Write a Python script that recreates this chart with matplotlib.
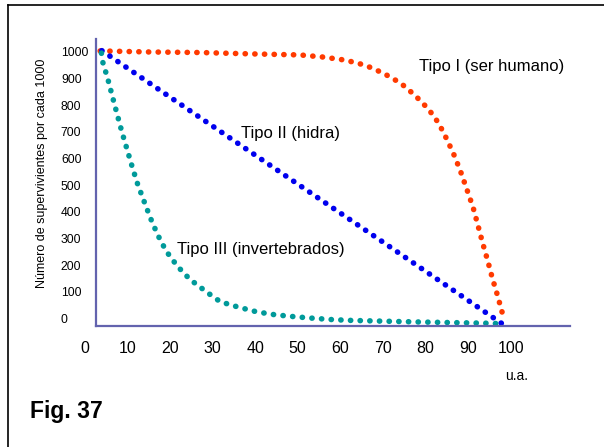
import matplotlib
matplotlib.use("Agg")
import matplotlib.pyplot as plt
from matplotlib.lines import Line2D

plt.rcParams['font.family'] = ['Liberation Sans', 'DejaVu Sans']

# ---- data ----
x_ticks = [0, 10, 20, 30, 40, 50, 60, 70, 80, 90, 100]
y_ticks = [0, 100, 200, 300, 400, 500, 600, 700, 800, 900, 1000]

tipo1_x = [3.6, 15.3, 27.1, 38.8, 50.5, 56.0, 60.5, 64.0, 67.3, 70.5, 74.2, 77.5,
           80.7, 83.1, 85.1, 86.9, 88.4, 89.8, 91.2, 92.3, 93.4, 94.6, 95.7, 96.9,
           98.0, 98.6]
tipo1_y = [1003, 999, 997, 992, 988, 980, 970, 958, 940, 916, 882, 837,
           785, 732, 669, 606, 544, 480, 415, 350, 284, 217, 151, 87, 23, -9]

tipo2_x = [4.0, 34.9, 69.7, 98.5]
tipo2_y = [1004, 668, 290, -25]

tipo3_x = [3.9, 4.2, 5.4, 6.5, 7.6, 8.7, 9.9, 11.1, 12.4, 13.9, 15.4, 17.1, 19.1,
           21.7, 24.6, 26.4, 28.9, 31.8, 36.0, 40.4, 44.7, 49.2, 53.7, 58.1, 62.5,
           78.7, 96.1, 98.5]
tipo3_y = [995, 962, 898, 831, 765, 700, 635, 570, 504, 440, 377, 314, 253,
           197, 148, 126, 96, 63, 43, 25, 14, 7, 1, -4, -7, -13, -18, -22]

labels = ["Tipo I (ser humano)", "Tipo II (hidra)", "Tipo III (invertebrados)"]
label_pos = [(95.6, 946), (48.4, 694), (41.4, 257)]
colors = ["#FF3A00", "#0000EE", "#009A9A"]

# ---- figure ----
fig = plt.figure(figsize=(6.04, 4.47), dpi=100)
ax = fig.add_axes([0.0699, 0.2635, 0.9166, 0.6566])
ax.set_xlim(-10, 120)
ax.set_ylim(-40, 1060)

axis_col = "#6363AE"
for s in ("top", "right"):
    ax.spines[s].set_visible(False)
ax.spines["left"].set_position(("data", 2.6))
ax.spines["left"].set_bounds(-28, 1047.5)
ax.spines["bottom"].set_position(("data", -28))
ax.spines["bottom"].set_bounds(2.6, 114)
for s in ("left", "bottom"):
    ax.spines[s].set_color(axis_col)
    ax.spines[s].set_linewidth(1.6)

ax.set_xticks(x_ticks)
ax.set_xticklabels([str(v) for v in x_ticks], fontsize=11.5)
ax.set_yticks(y_ticks)
ax.set_yticklabels([str(v) for v in y_ticks], fontsize=8.7)
ax.tick_params(axis="x", length=0, pad=11)
ax.tick_params(axis="y", length=0, pad=25.2)
for lbl in ax.get_yticklabels():
    lbl.set_horizontalalignment("left")

dot = (0, (0.05, 1.69))
for xs, ys, c in [(tipo1_x, tipo1_y, colors[0]),
                  (tipo2_x, tipo2_y, colors[1]),
                  (tipo3_x, tipo3_y, colors[2])]:
    ax.plot(xs, ys, color=c, lw=4.0, linestyle=dot,
            dash_capstyle="round", clip_on=False)

for txt, (tx, ty) in zip(labels, label_pos):
    ax.text(tx, ty, txt, fontsize=12, ha="center", va="center")

fig.text(41.7 / 604, 1 - 173 / 447, "Número de supervivientes por cada 1000",
         rotation=90, ha="center", va="center", fontsize=9)
fig.text(516.7 / 604, 1 - 376 / 447, "u.a.", ha="center", va="center", fontsize=10)
fig.text(30.5 / 604, 1 - 411.7 / 447, "Fig. 37", ha="left", va="center",
         fontsize=16.5, fontweight="bold")

# outer frame (top and left edges visible)
fig.add_artist(Line2D([8 / 604, 8 / 604], [0, 1 - 5 / 447], color="black",
                      lw=1.2, transform=fig.transFigure))
fig.add_artist(Line2D([8 / 604, 1], [1 - 5 / 447, 1 - 5 / 447], color="black",
                      lw=1.2, transform=fig.transFigure))

fig.savefig("out.png", dpi=100)
